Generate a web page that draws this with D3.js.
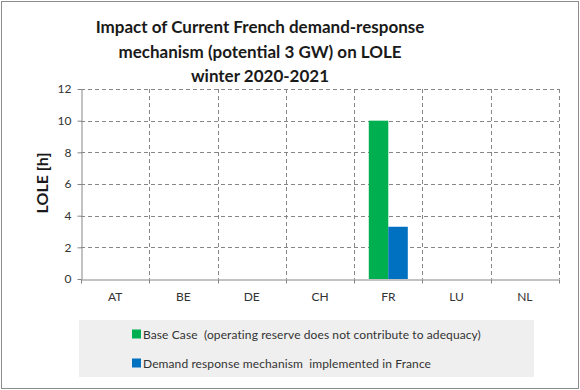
<!DOCTYPE html>
<html>
<head>
<meta charset="utf-8">
<script src="https://cdn.jsdelivr.net/npm/d3@7"></script>
<style>
  body { margin: 0; background: #fff; }
  svg { font-family: Lato, "Open Sans", sans-serif; }
</style>
</head>
<body>
<div id="chart"></div>
<script>
const countries = ["AT", "BE", "DE", "CH", "FR", "LU", "NL"];
const seriesNames = [
    "Base Case  (operating reserve does not contribute to adequacy)",
    "Demand response mechanism  implemented in France"
];
const baseCase = [0, 0, 0, 0, 10, 0, 0];
const demandResponse = [0, 0, 0, 0, 3.3, 0, 0];
const yTicks = [0, 2, 4, 6, 8, 10, 12];
const titleLines = [
    "Impact of Current French demand-response",
    "mechanism (potential 3 GW) on LOLE",
    "winter 2020-2021"
];
const colors = ["#00b050", "#0070c0"];

const width = 580, height = 390;
const margin = {top: 89, right: 21, bottom: 111, left: 81};

const svg = d3.select("#chart").append("svg")
    .attr("width", width)
    .attr("height", height);

// outer frame
svg.append("rect")
    .attr("x", 1.5).attr("y", 1.5)
    .attr("width", width - 3).attr("height", height - 3)
    .attr("fill", "#fff")
    .attr("stroke", "#8c8c8c");

svg.append("g")
    .selectAll("text")
    .data(titleLines)
    .enter().append("text")
    .attr("x", 260)
    .attr("y", (d, i) => 33 + i * 24.5)
    .attr("text-anchor", "middle")
    .attr("font-size", 17)
    .attr("font-weight", "bold")
    .attr("fill", "#1a1a1a")
    .text(d => d);

const x = d3.scaleBand()
    .domain(countries)
    .range([margin.left, width - margin.right]);

const x1 = d3.scaleBand()
    .domain([0, 1])
    .range([0, 39]);

const y = d3.scaleLinear()
    .domain([0, 12])
    .range([height - margin.bottom, margin.top]);

// horizontal grid
svg.append("g")
    .selectAll("line")
    .data(yTicks.filter(t => t > 0))
    .enter().append("line")
    .attr("x1", margin.left).attr("x2", width - margin.right)
    .attr("y1", d => Math.round(y(d)) + 0.5).attr("y2", d => Math.round(y(d)) + 0.5)
    .attr("stroke", "#868686")
    .attr("stroke-dasharray", "4,3");

// vertical grid at category boundaries
svg.append("g")
    .selectAll("line")
    .data(countries.slice(1))
    .enter().append("line")
    .attr("x1", d => Math.round(x(d)) + 0.5).attr("x2", d => Math.round(x(d)) + 0.5)
    .attr("y1", margin.top).attr("y2", height - margin.bottom)
    .attr("stroke", "#868686")
    .attr("stroke-dasharray", "4,3");

// right border of plot
svg.append("line")
    .attr("x1", width - margin.right + 0.5).attr("x2", width - margin.right + 0.5)
    .attr("y1", margin.top).attr("y2", height - margin.bottom)
    .attr("stroke", "#868686")
    .attr("stroke-dasharray", "4,3");

// bars
const groups = svg.append("g")
    .selectAll("g")
    .data(countries)
    .enter().append("g")
    .attr("transform", d => `translate(${x(d) + x.bandwidth() / 2 - 19.5},0)`);

groups.selectAll("rect")
    .data((d, i) => [baseCase[i], demandResponse[i]])
    .enter().append("rect")
    .attr("x", (d, j) => x1(j))
    .attr("width", x1.bandwidth())
    .attr("y", d => y(d))
    .attr("height", d => y(0) - y(d))
    .attr("fill", (d, j) => colors[j]);

// y axis
svg.append("g")
    .attr("transform", `translate(${margin.left + 0.5},0)`)
    .call(d3.axisLeft(y).tickValues(yTicks).tickSize(4).tickSizeOuter(0).tickPadding(6))
    .call(g => g.selectAll("path, line").attr("stroke", "#868686"))
    .call(g => g.selectAll("text").attr("fill", "#333").style("font-size", "12px").style("font-family", "Lato, sans-serif"));

// x axis
const xAxis = svg.append("g")
    .attr("transform", `translate(0,${Math.round(y(0)) + 0.5})`)
    .call(d3.axisBottom(x).tickSize(0).tickPadding(13))
    .call(g => g.select(".domain").attr("stroke", "#868686"))
    .call(g => g.selectAll("text").attr("fill", "#333").style("font-size", "12px").style("font-family", "Lato, sans-serif"));

xAxis.selectAll(".sep")
    .data(countries.concat(["end"]))
    .enter().append("line")
    .attr("x1", d => Math.round(d === "end" ? width - margin.right : x(d)) + 0.5)
    .attr("x2", d => Math.round(d === "end" ? width - margin.right : x(d)) + 0.5)
    .attr("y1", 0).attr("y2", 4)
    .attr("stroke", "#868686");

// y axis title
svg.append("text")
    .attr("transform", "translate(48,183) rotate(-90)")
    .attr("text-anchor", "middle")
    .attr("font-size", 16)
    .attr("font-weight", "bold")
    .attr("fill", "#1a1a1a")
    .text("LOLE [h]");

// legend
const legend = svg.append("g");
legend.append("rect")
    .attr("x", 79).attr("y", 320)
    .attr("width", 455).attr("height", 57)
    .attr("fill", "#efefef");

const items = legend.selectAll("g")
    .data(seriesNames)
    .enter().append("g")
    .attr("transform", (d, i) => `translate(132,${334 + i * 29})`);

items.append("rect")
    .attr("x", 0).attr("y", -4.5)
    .attr("width", 9).attr("height", 9)
    .attr("fill", (d, i) => colors[i]);

items.append("text")
    .attr("x", 11)
    .attr("y", 4.5)
    .attr("font-size", 12)
    .attr("letter-spacing", 0.1)
    .style("white-space", "pre")
    .attr("fill", "#333")
    .text(d => d);
</script>
</body>
</html>
